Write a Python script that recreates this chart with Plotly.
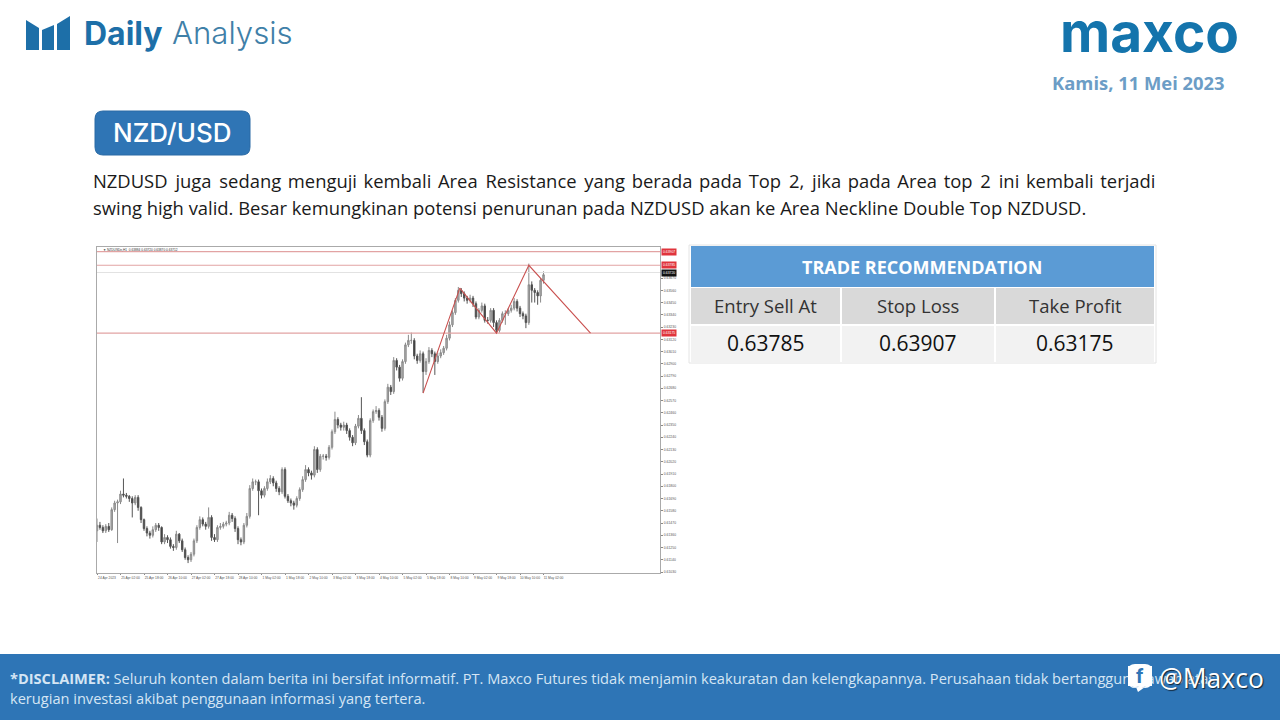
import plotly.graph_objects as go

# --- chart data (2-hour candles, pips: price = value / 10000) ---
close_pips = [6145,6143,6140,6144,6141,6159,6165,6166,6173,6172,6171,6169,6165,6170,6161,6150,6142,6138,6136,6141,
 6145,6143,6130,6134,6132,6126,6125,6137,6131,6123,6116,6114,6119,6131,6143,6150,6146,6144,6152,6134,
 6132,6143,6144,6146,6147,6154,6151,6142,6132,6130,6145,6153,6178,6184,6184,6176,6172,6178,6184,6187,
 6183,6178,6175,6195,6171,6167,6165,6163,6169,6177,6186,6195,6192,6190,6213,6195,6207,6207,6206,6215,
 6229,6240,6235,6233,6235,6230,6224,6219,6234,6241,6230,6220,6208,6239,6247,6248,6242,6232,6256,6269,
 6265,6293,6287,6277,6292,6307,6311,6311,6297,6293,6299,6283,6292,6302,6299,6292,6297,6300,6304,6313,
 6325,6336,6347,6356,6353,6349,6347,6349,6344,6332,6338,6342,6329,6329,6338,6327,6320,6329,6335,6335,
 6338,6340,6346,6340,6335,6333,6327,6361,6356,6354,6351,6365,6370]
high_pips = [6151,6148,6145,6146,6147,6161,6167,6168,6176,6187,6174,6172,6171,6172,6172,6162,6151,6144,6140,6144,
 6147,6147,6144,6137,6136,6134,6128,6140,6138,6133,6125,6118,6121,6133,6145,6153,6152,6148,6161,6154,
 6137,6145,6147,6148,6149,6157,6156,6153,6144,6134,6147,6156,6181,6187,6186,6186,6178,6180,6187,6190,
 6189,6185,6180,6197,6197,6173,6169,6167,6171,6179,6189,6199,6197,6194,6216,6215,6209,6209,6209,6217,
 6231,6247,6242,6237,6238,6237,6232,6226,6236,6244,6260,6232,6222,6241,6249,6252,6250,6244,6258,6272,
 6271,6296,6295,6289,6294,6309,6316,6318,6313,6299,6302,6301,6295,6305,6304,6301,6300,6303,6306,6316,
 6328,6338,6349,6359,6358,6355,6351,6352,6351,6346,6340,6345,6344,6332,6340,6340,6329,6331,6337,6338,
 6340,6343,6349,6348,6342,6337,6335,6380,6364,6358,6356,6367,6373]
low_pips = [6130,6141,6138,6138,6139,6140,6157,6129,6164,6170,6169,6166,6152,6163,6158,6147,6140,6135,6133,6134,
 6139,6140,6128,6128,6129,6124,6122,6123,6129,6121,6114,6111,6112,6117,6129,6141,6144,6141,6142,6131,
 6130,6130,6141,6142,6144,6145,6148,6139,6128,6127,6128,6143,6151,6176,6181,6154,6169,6170,6176,6182,
 6180,6175,6172,6173,6169,6165,6162,6159,6161,6167,6175,6184,6189,6186,6188,6192,6193,6204,6203,6204,
 6213,6227,6232,6230,6230,6227,6221,6216,6217,6232,6227,6217,6206,6206,6237,6245,6239,6229,6230,6254,
 6262,6263,6284,6274,6275,6290,6305,6308,6294,6290,6291,6264,6280,6290,6296,6280,6290,6295,6298,6302,
 6311,6323,6334,6345,6350,6346,6344,6345,6341,6330,6330,6336,6327,6326,6327,6323,6318,6318,6327,6325,
 6333,6336,6338,6337,6332,6330,6322,6325,6345,6345,6343,6345,6362]
first_open_pips = 6140
hours_per_candle = 2

level_prices = [0.63907, 0.63785, 0.63175]
current_price = 0.63720
zigzag_hours = [222, 247, 272, 294, 336]
zigzag_prices = [0.62637, 0.63580, 0.63175, 0.63785, 0.63175]
price_ticks = [round(0.6103 + 0.0011 * k, 5) for k in range(25)]
time_tick_hours = list(range(0, 305, 16))
time_labels = ["24 Apr 2023","25 Apr 02:00","25 Apr 18:00","26 Apr 10:00","27 Apr 02:00","27 Apr 18:00","28 Apr 10:00",
 "1 May 02:00","1 May 18:00","2 May 10:00","3 May 02:00","3 May 18:00","4 May 10:00","5 May 02:00","5 May 18:00",
 "8 May 10:00","9 May 02:00","9 May 18:00","10 May 10:00","11 May 02:00"]

table_headers = ["Entry Sell At", "Stop Loss", "Take Profit"]
table_values = ["0.63785", "0.63907", "0.63175"]
table_title = "TRADE RECOMMENDATION"

W, H = 1280, 720
px = lambda x: x / W
py = lambda y: 1 - y / H

closes = [v / 10000 for v in close_pips]
opens = [first_open_pips / 10000] + closes[:-1]
highs = [v / 10000 for v in high_pips]
lows = [v / 10000 for v in low_pips]
times = [i * hours_per_candle for i in range(len(closes))]

fig = go.Figure()

# horizontal levels
for lv in level_prices:
    fig.add_trace(go.Scatter(x=[0, 383.3], y=[lv, lv], mode="lines", line=dict(color="#e2a3a3", width=1.2),
                             hoverinfo="skip", showlegend=False))
fig.add_trace(go.Scatter(x=[0, 383.3], y=[current_price, current_price], mode="lines",
                         line=dict(color="#e2e2e2", width=1), hoverinfo="skip", showlegend=False))

fig.add_trace(go.Candlestick(x=times, open=opens, high=highs, low=lows, close=closes, whiskerwidth=0,
                             increasing=dict(line=dict(color="#8a8a8a", width=1), fillcolor="#b0b0b0"),
                             decreasing=dict(line=dict(color="#555555", width=1), fillcolor="#333333"),
                             showlegend=False))

fig.add_trace(go.Scatter(x=zigzag_hours, y=zigzag_prices, mode="lines", line=dict(color="#c9504f", width=1.1),
                         hoverinfo="skip", showlegend=False))


def rect(x0, y0, x1, y1, fill, line_color=None):
    return dict(type="rect", xref="paper", yref="paper", x0=px(x0), x1=px(x1), y0=py(y0), y1=py(y1),
                line=dict(color=line_color, width=1) if line_color else dict(width=0), fillcolor=fill, layer="below")


shapes = [
    rect(689, 245, 1156, 363, "white", "#e4e4e4"),
    rect(691, 246, 1154, 287, "#5b9bd5"),
    rect(0, 654, 1280, 720, "#2e75b6"),
]
col_edges = [(691, 840), (842, 994), (996, 1154)]
for x0, x1 in col_edges:
    shapes.append(rect(x0, 288, x1, 324, "#d9d9d9"))
    shapes.append(rect(x0, 326, x1, 362, "#f2f2f2"))


def paper_path(points):
    return "M" + " L".join(f"{px(a):.5f},{py(b):.5f}" for a, b in points) + " Z"


for pts in ([(26, 20), (39, 28), (39, 50), (26, 50)], [(42, 30), (54, 25), (54, 50), (42, 50)],
            [(57, 24), (70, 16), (70, 50), (57, 50)]):
    shapes.append(dict(type="path", xref="paper", yref="paper", path=paper_path(pts),
                       fillcolor="#1d6fa8", line=dict(width=0)))


def rounded(x0, y0, x1, y1, r):
    kx, ky = r / W, r / H
    X0, X1, Y0, Y1 = px(x0), px(x1), py(y0), py(y1)
    return (f"M{X0+kx},{Y0} L{X1-kx},{Y0} Q{X1},{Y0} {X1},{Y0-ky} L{X1},{Y1+ky} Q{X1},{Y1} {X1-kx},{Y1} "
            f"L{X0+kx},{Y1} Q{X0},{Y1} {X0},{Y1+ky} L{X0},{Y0-ky} Q{X0},{Y0} {X0+kx},{Y0} Z")


shapes.append(dict(type="path", xref="paper", yref="paper", path=rounded(95, 111, 250, 155, 8),
                   fillcolor="#2f75b5", line=dict(color="#2a6aa5", width=1)))
shapes.append(dict(type="path", xref="paper", yref="paper", path=rounded(1128, 664, 1152, 688, 7),
                   fillcolor="white", line=dict(width=0)))
shapes.append(dict(type="path", xref="paper", yref="paper", path=paper_path([(1136, 687), (1145, 687), (1138, 692)]),
                   fillcolor="white", line=dict(width=0)))

ann = []


def text(x, y, s, size, color, family="Open Sans", anchor="left", weight=None, **extra):
    f = dict(family=family, size=size, color=color)
    if weight:
        f["weight"] = weight
    if "shadow" in extra:
        f["shadow"] = extra.pop("shadow")
    ann.append(dict(xref="paper", yref="paper", x=px(x), y=py(y), text=s, showarrow=False, xanchor=anchor,
                    yanchor="middle", font=f, align="center" if anchor == "center" else "left",
                    borderpad=0, borderwidth=0, **extra))


TH, HR = "\u2009", "\u200a"
text(84, 33.5, "Daily", 32, "#1d6fa8", "Inter", weight=700)
text(172, 33.5, "Analysis", 31.2, "#3f80a8", "Inter", weight=300)
text(1060, 32, "maxco", 55, "#1474ac", "Inter", weight=700)
text(1225, 82.5, "Kamis, 11 Mei 2023", 18.4, "#6c9dc6", "Open Sans", anchor="right", weight=700)
text(172, 132, "NZD/USD", 26, "white", "Inter", anchor="center", weight=500)
text(922, 267, f"<b>{table_title}</b>", 18, "white", "Open Sans", anchor="center")
for (x0, x1), h, v in zip(col_edges, table_headers, table_values):
    text((x0 + x1) / 2, 305, h, 18.5, "#333333", "Open Sans", anchor="center")
    text((x0 + x1) / 2, 342.5, v, 21, "#111111", "Open Sans", anchor="center")

line1_words = "NZDUSD juga sedang menguji kembali Area Resistance yang berada pada Top 2, jika pada Area top 2 ini kembali terjadi".split()
line1 = line1_words[0]
for i, w in enumerate(line1_words[1:]):
    line1 += " " + (TH if i % 5 < 2 else HR) + w
text(93, 180, line1, 18.4, "#1a1a1a")
text(93, 207.5, "swing high valid. Besar kemungkinan potensi penurunan pada NZDUSD akan ke Area Neckline Double Top NZDUSD.",
     18.4, "#1a1a1a")
text(10, 678, "<b>*DISCLAIMER:</b> Seluruh konten dalam berita ini bersifat informatif. PT. Maxco Futures tidak menjamin keakuratan dan kelengkapannya. Perusahaan tidak bertanggung jawab atas",
     14.6, "#d5e5f4")
text(10, 698, "kerugian investasi akibat penggunaan informasi yang tertera.", 14.6, "#d5e5f4")
text(1140, 676, "<b>f</b>", 20, "#2e75b6", "Roboto", anchor="center", bgcolor="white", width=24, height=20)
text(1159, 678, "@Maxco", 26.5, "white", "Open Sans", shadow="1px 1px 1px #123")

# chart annotations
text(103, 250, "\u25bc NZDUSDe,H1  0.63884 0.63720 0.63870 0.63712", 3.2, "#333333", "Liberation Sans")
for lv in level_prices:
    ann.append(dict(xref="paper", yref="y", x=px(661), y=lv, text=f"{lv:.5f}", showarrow=False, xanchor="left",
                    yanchor="middle", font=dict(family="Liberation Sans", size=3.4, color="white"),
                    bgcolor="#e0343c", borderpad=1))
ann.append(dict(xref="paper", yref="y", x=px(661), y=current_price, text=f"{current_price:.5f}", showarrow=False,
                xanchor="left", yanchor="middle", font=dict(family="Liberation Sans", size=3.4, color="white"),
                bgcolor="#111111", borderpad=1))

fig.update_layout(
    width=W, height=H, margin=dict(l=0, r=0, t=0, b=0, autoexpand=False), paper_bgcolor="white", plot_bgcolor="white",
    shapes=shapes, annotations=ann, showlegend=False,
    xaxis=dict(domain=[px(97), px(660)], range=[0, 383.3], rangeslider=dict(visible=False), showgrid=False,
               zeroline=False, tickmode="array", tickvals=time_tick_hours, ticktext=time_labels,
               ticks="outside", ticklen=1, tickcolor="#888888", tickangle=0, ticklabelshift=10,
               tickfont=dict(family="Liberation Sans", size=3.3, color="#555555"),
               showline=True, linecolor="#aaaaaa", linewidth=1.2, mirror=True),
    yaxis=dict(domain=[py(573), py(247)], range=[0.61021, 0.63949], side="right", showgrid=False,
               zeroline=False, tickmode="array", tickvals=price_ticks, tickformat=".5f",
               ticks="outside", ticklen=2, tickcolor="#888888",
               tickfont=dict(family="Liberation Sans", size=3.4, color="#555555"),
               showline=True, linecolor="#aaaaaa", linewidth=1.2, mirror=True),
)

fig.write_html("out.html", config=dict(displayModeBar=False),
               post_script="document.body.style.margin='0';document.body.style.overflow='hidden';")
